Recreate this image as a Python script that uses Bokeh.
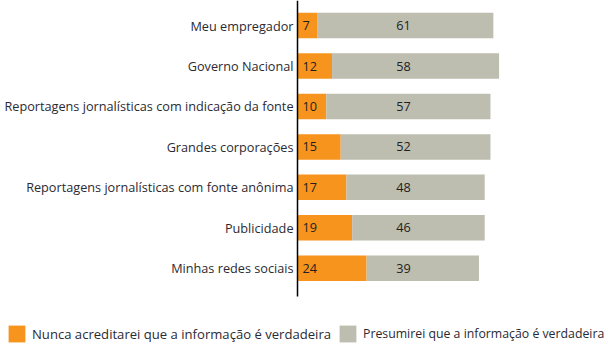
from bokeh.plotting import figure
from bokeh.models import ColumnDataSource, Range1d, Legend, LegendItem
from bokeh.core.properties import value
from bokeh.embed import file_html
from bokeh.resources import INLINE

categories = ["Meu empregador", "Governo Nacional",
              "Reportagens jornalísticas com indicação da fonte",
              "Grandes corporações",
              "Reportagens jornalísticas com fonte anônima",
              "Publicidade", "Minhas redes sociais"]
nunca = [7, 12, 10, 15, 17, 19, 24]
presumirei = [61, 58, 57, 52, 48, 46, 39]
series_names = ["Nunca acreditarei que a informação é verdadeira",
                "Presumirei que a informação é verdadeira"]
colors = ["#F7941D", "#BDBDB0"]

FONT = "Open Sans"
TXT = "#2B2A33"
W, H = 608, 350
AXIS_PX = 297          # screen x of the category axis
PX_PER_UNIT = 2.88     # horizontal scale
ROW_PX = 40.44         # vertical spacing of rows
TOP_PAD = 0.62         # rows above first category (in row units)
AXIS_BOTTOM_PX = 296   # where the axis line ends

y_top = -TOP_PAD
y_bottom = y_top + H / ROW_PX
axis_end = y_top + AXIS_BOTTOM_PX / ROW_PX

idx = list(range(len(categories)))
src = ColumnDataSource(dict(
    y=idx,
    cat=categories,
    n_end=nunca,
    p_start=nunca,
    p_end=[a + b for a, b in zip(nunca, presumirei)],
    zero=[0] * len(idx),
    n_txt=[str(v) for v in nunca],
    p_txt=[str(v) for v in presumirei],
))

p = figure(width=W, height=H, output_backend="svg", toolbar_location=None,
           x_range=Range1d(-AXIS_PX / PX_PER_UNIT, (W - AXIS_PX) / PX_PER_UNIT),
           y_range=Range1d(y_bottom, y_top),
           x_axis_type=None, y_axis_type=None,
           min_border=0)
p.outline_line_color = None
p.grid.visible = False
p.border_fill_color = "white"

r1 = p.hbar(y="y", left="zero", right="n_end", height=0.63, source=src,
            fill_color=colors[0], line_color=None)
r2 = p.hbar(y="y", left="p_start", right="p_end", height=0.63, source=src,
            fill_color=colors[1], line_color=None)

# category axis line and labels
p.segment(x0=[0], y0=[y_top], x1=[0], y1=[axis_end],
          line_color="black", line_width=1.5)
p.text(x="zero", y="y", text="cat", source=src, x_offset=-4,
       text_align="right", text_baseline="middle", text_font=value(FONT),
       text_font_size="12.7px", text_color=TXT)

p.text(x="zero", y="y", text="n_txt", source=src, x_offset=5,
       text_align="left", text_baseline="middle", text_font=value(FONT),
       text_font_size="12.7px", text_color="#231F20")
p.text(x="zero", y="y", text="p_txt", source=src, x_offset=106,
       text_align="center", text_baseline="middle", text_font=value(FONT),
       text_font_size="12.7px", text_color="#231F20")

for r, name, loc, fs in [(r1, series_names[0], (6, 6), "13.1px"),
                         (r2, series_names[1], (337, 6), "12.3px")]:
    lg = Legend(items=[LegendItem(label=name, renderers=[r])],
                location=loc, orientation="horizontal",
                glyph_width=21, glyph_height=21, label_height=21,
                label_standoff=5, padding=0, margin=0,
                border_line_color=None, background_fill_alpha=0,
                label_text_font=FONT, label_text_font_size=fs,
                label_text_color=TXT, label_text_baseline="middle")
    p.add_layout(lg, "center")

open("out.html", "w").write(file_html(p, INLINE))
